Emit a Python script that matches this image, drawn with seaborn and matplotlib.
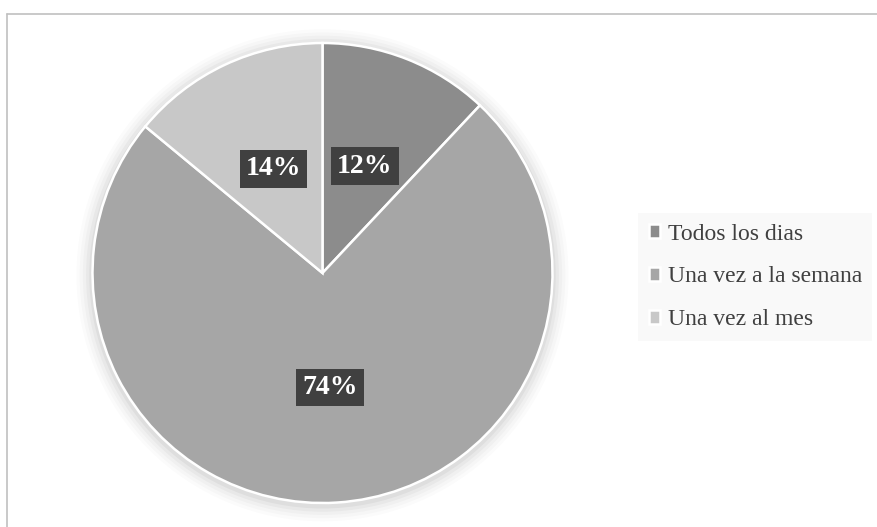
import matplotlib
matplotlib.use('Agg')
import matplotlib.pyplot as plt
import seaborn as sns
from matplotlib.lines import Line2D
from matplotlib.patches import Circle

# Data
categories = ['Todos los dias', 'Una vez a la semana', 'Una vez al mes']
values = [12, 74, 14]
colors = ['#8c8c8c', '#a6a6a6', '#c8c8c8']

sns.set_style('white')
plt.rcParams['font.family'] = ['Liberation Serif', 'DejaVu Serif']

fig = plt.figure(figsize=(8.77, 5.27), dpi=100)
ax = fig.add_axes([92 / 877, 24 / 527, 461 / 877, 460 / 527])

# soft shadow behind the pie
for i, a in enumerate([0.015, 0.02, 0.025, 0.03, 0.04]):
    ax.add_patch(Circle((0, -0.01), 1.07 - i * 0.014, color='black', alpha=a,
                        lw=0, zorder=0, clip_on=False))

wedges, texts, autotexts = ax.pie(
    values, colors=colors, startangle=90, counterclock=False,
    autopct='%1.0f%%', pctdistance=0.5,
    wedgeprops=dict(edgecolor='white', linewidth=1.8),
)
for t in autotexts:
    t.set_color('white')
    t.set_fontsize(20)
    t.set_fontweight('bold')
    t.set_bbox(dict(boxstyle='square,pad=0.22', facecolor='#404040', edgecolor='none'))

ax.set_xlim(-1, 1)
ax.set_ylim(-1, 1)
ax.set_aspect('equal')
ax.axis('off')

# legend
leg = fig.legend(wedges, categories, loc='center left',
                 bbox_to_anchor=(638 / 877, 1 - 277 / 527),
                 frameon=True, fontsize=17, handlelength=0.5, handleheight=0.5,
                 handletextpad=0.3, labelspacing=0.93, borderpad=0.45,
                 borderaxespad=0, labelcolor='#404040')
leg.get_frame().set_facecolor('#f8f8f8')
leg.get_frame().set_edgecolor('none')
leg.get_frame().set_boxstyle('square', pad=0)

# chart area border (top and left)
fig.add_artist(Line2D([7 / 877, 1], [1 - 14 / 527] * 2, color='#c0c0c0', lw=1.2))
fig.add_artist(Line2D([7 / 877] * 2, [1 - 14 / 527, 0], color='#c0c0c0', lw=1.2))

fig.savefig('out.png', dpi=100)
